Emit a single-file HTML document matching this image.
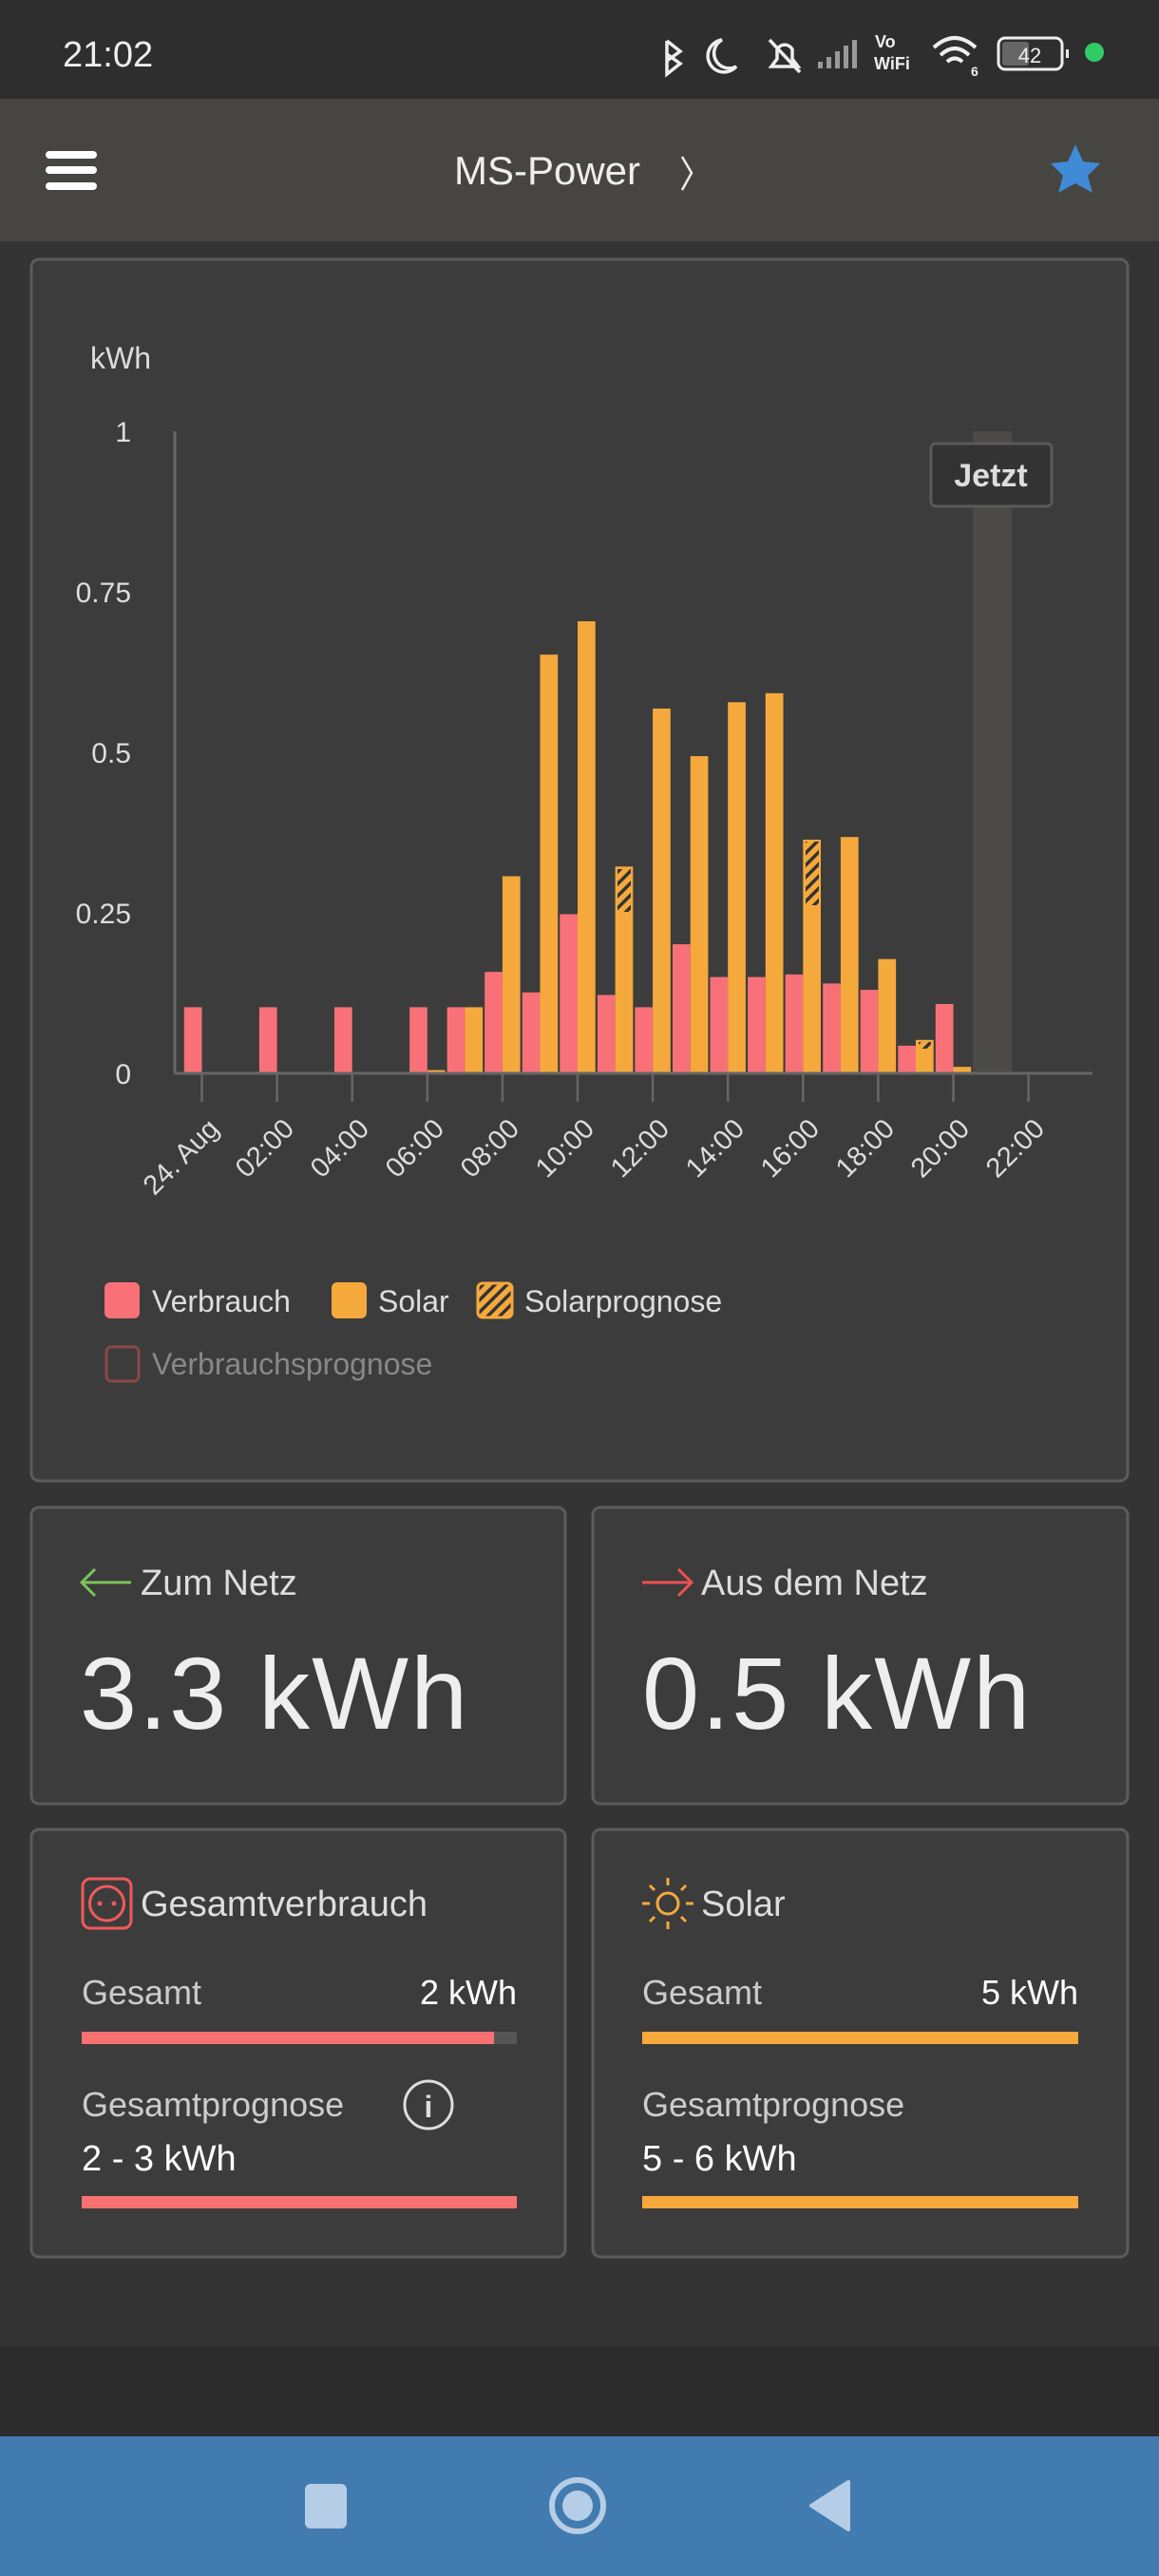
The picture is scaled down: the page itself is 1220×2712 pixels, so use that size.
<!DOCTYPE html>
<html><head><meta charset="utf-8"><style>
html,body{margin:0;padding:0;background:#343434;}
svg{display:block;}
text{font-family:"Liberation Sans",sans-serif;}
</style></head><body>
<svg width="1220" height="2712" viewBox="0 0 1220 2712" xmlns="http://www.w3.org/2000/svg">
<defs>
<pattern id="hatch" patternUnits="userSpaceOnUse" width="9" height="9" patternTransform="rotate(45)">
<rect width="9" height="9" fill="#f5a93c"/><rect width="3.5" height="9" fill="#333"/>
</pattern>
</defs>
<!-- status bar -->
<rect x="0" y="0" width="1220" height="104" fill="#2e2e2e"/>
<text x="66" y="70" font-size="38" fill="#eee">21:02</text>
<g stroke="#eee" stroke-width="3.5" fill="none">
<path d="M702 43 L716 54 L702 64 M702 43 L702 78 L716 67 L702 57"/>
<path d="M760 42 A17 17 0 1 0 775 70 A14 14 0 0 1 760 42Z"/>
<path d="M812 70 L840 70 L834 62 L834 52 A9 9 0 0 0 818 52 L818 62Z M810 42 L842 76"/>
</g>
<g fill="#999"><rect x="861" y="65" width="5" height="7"/><rect x="870" y="60" width="5" height="12"/><rect x="879" y="54" width="5" height="18"/><rect x="888" y="48" width="5" height="24"/><rect x="897" y="42" width="5" height="30"/></g>
<text x="921" y="50" font-size="18" fill="#eee" font-weight="bold">Vo</text>
<text x="920" y="73" font-size="18" fill="#eee" font-weight="bold">WiFi</text>
<g stroke="#eee" stroke-width="4" fill="none"><path d="M983 50 Q1005 30 1027 50"/><path d="M990 58 Q1005 44 1020 58"/><path d="M997 65 Q1005 58 1013 65"/></g>
<text x="1022" y="80" font-size="14" fill="#eee" font-weight="bold">6</text>
<rect x="1051" y="40" width="67" height="33" rx="7" fill="none" stroke="#eee" stroke-width="3"/>
<rect x="1055" y="44" width="28" height="25" rx="3" fill="#666"/>
<rect x="1122" y="52" width="3" height="9" fill="#eee"/>
<text x="1084" y="66" font-size="22" fill="#eee" text-anchor="middle">42</text>
<circle cx="1152" cy="55" r="10" fill="#2fcc66"/>
<!-- header -->
<rect x="0" y="104" width="1220" height="150" fill="#464541"/>
<g fill="#fff"><rect x="48" y="159" width="54" height="8" rx="4"/><rect x="48" y="175" width="54" height="8" rx="4"/><rect x="48" y="192" width="54" height="8" rx="4"/></g>
<text x="576" y="194" font-size="42" fill="#eee" text-anchor="middle">MS-Power</text>
<path d="M718 165 L728 182 L718 200" stroke="#eee" stroke-width="2.5" fill="none"/>
<path d="M1132 152 L1140 170 L1158 172 L1145 185 L1150 203 L1132 193 L1114 203 L1119 185 L1106 172 L1124 170Z" fill="#3f8bd6"/>
<!-- bottom -->
<rect x="0" y="2470" width="1220" height="95" fill="#2b2b2b"/>
<rect x="0" y="2565" width="1220" height="147" fill="#427bb0"/>
<rect x="321" y="2615" width="44" height="47" rx="6" fill="#b5cde6"/>
<circle cx="608" cy="2638" r="27" fill="none" stroke="#b5cde6" stroke-width="6"/>
<circle cx="608" cy="2638" r="16" fill="#b5cde6"/>
<path d="M893 2613 L893 2663 L854 2638Z" fill="#b5cde6" stroke="#b5cde6" stroke-width="4" stroke-linejoin="round"/>
<!-- chart card -->
<rect x="33" y="273" width="1154" height="1286" rx="8" fill="#3c3c3c" stroke="#5c5c5c" stroke-width="3"/>
<text x="95" y="388" font-size="32" fill="#ddd">kWh</text>
<g font-size="30" fill="#ddd" text-anchor="end">
<text x="138" y="465">1</text><text x="138" y="634">0.75</text><text x="138" y="803">0.5</text><text x="138" y="972">0.25</text><text x="138" y="1141">0</text>
</g>
<rect x="1024" y="454" width="41" height="676" fill="#4b4a46"/>
<line x1="184" y1="454" x2="184" y2="1130" stroke="#666" stroke-width="3"/>
<g fill="#f87178">
<rect x="193.8" y="1060.4" width="18.7" height="69.6"/>
<rect x="272.9" y="1060.4" width="18.7" height="69.6"/>
<rect x="352.0" y="1060.4" width="18.7" height="69.6"/>
<rect x="431.1" y="1060.4" width="18.7" height="69.6"/>
<rect x="470.7" y="1060.4" width="18.7" height="69.6"/>
<rect x="510.2" y="1023.2" width="18.7" height="106.8"/>
<rect x="549.8" y="1044.8" width="18.7" height="85.2"/>
<rect x="589.3" y="962.4" width="18.7" height="167.6"/>
<rect x="628.9" y="1047.5" width="18.7" height="82.5"/>
<rect x="668.4" y="1060.4" width="18.7" height="69.6"/>
<rect x="708.0" y="994.1" width="18.7" height="135.9"/>
<rect x="747.5" y="1028.6" width="18.7" height="101.4"/>
<rect x="787.1" y="1028.6" width="18.7" height="101.4"/>
<rect x="826.6" y="1025.9" width="18.7" height="104.1"/>
<rect x="866.2" y="1035.4" width="18.7" height="94.6"/>
<rect x="905.7" y="1042.1" width="18.7" height="87.9"/>
<rect x="945.3" y="1100.9" width="18.7" height="29.1"/>
<rect x="984.8" y="1057" width="18.7" height="73"/>
</g>
<g fill="#f5a93c">
<rect x="449.8" y="1126.6" width="18.7" height="3.4"/>
<rect x="489.4" y="1060.4" width="18.7" height="69.6"/>
<rect x="528.9" y="922.5" width="18.7" height="207.5"/>
<rect x="568.5" y="689.2" width="18.7" height="440.8"/>
<rect x="608.0" y="654.1" width="18.7" height="475.9"/>
<rect x="647.6" y="912.3" width="18.7" height="217.7"/>
<rect x="687.1" y="746" width="18.7" height="384"/>
<rect x="726.7" y="796.1" width="18.7" height="333.9"/>
<rect x="766.2" y="739.3" width="18.7" height="390.7"/>
<rect x="805.8" y="729.8" width="18.7" height="400.2"/>
<rect x="845.3" y="884" width="18.7" height="246"/>
<rect x="884.9" y="881.2" width="18.7" height="248.8"/>
<rect x="924.4" y="1009.7" width="18.7" height="120.3"/>
<rect x="964.0" y="1094.8" width="18.7" height="35.2"/>
<rect x="1003.5" y="1123.2" width="18.7" height="6.8"/>
</g>
<g fill="url(#hatch)">
<rect x="650" y="915" width="14" height="45"/>
<rect x="848" y="886" width="14" height="67"/>
<rect x="967" y="1097" width="13" height="7"/>
</g>
<line x1="184" y1="1130" x2="1150" y2="1130" stroke="#666" stroke-width="3"/>
<g stroke="#666" stroke-width="2.5">
<line x1="212.5" y1="1130" x2="212.5" y2="1160"/><line x1="291.6" y1="1130" x2="291.6" y2="1160"/><line x1="370.7" y1="1130" x2="370.7" y2="1160"/><line x1="449.8" y1="1130" x2="449.8" y2="1160"/><line x1="528.9" y1="1130" x2="528.9" y2="1160"/><line x1="608" y1="1130" x2="608" y2="1160"/><line x1="687.1" y1="1130" x2="687.1" y2="1160"/><line x1="766.2" y1="1130" x2="766.2" y2="1160"/><line x1="845.3" y1="1130" x2="845.3" y2="1160"/><line x1="924.4" y1="1130" x2="924.4" y2="1160"/><line x1="1003.5" y1="1130" x2="1003.5" y2="1160"/><line x1="1082.6" y1="1130" x2="1082.6" y2="1160"/>
</g>
<g font-size="29" fill="#ddd" text-anchor="end">
<text transform="translate(232,1190) rotate(-45)">24. Aug</text>
<text transform="translate(311,1190) rotate(-45)">02:00</text>
<text transform="translate(390,1190) rotate(-45)">04:00</text>
<text transform="translate(469,1190) rotate(-45)">06:00</text>
<text transform="translate(548,1190) rotate(-45)">08:00</text>
<text transform="translate(627,1190) rotate(-45)">10:00</text>
<text transform="translate(706,1190) rotate(-45)">12:00</text>
<text transform="translate(785,1190) rotate(-45)">14:00</text>
<text transform="translate(864,1190) rotate(-45)">16:00</text>
<text transform="translate(943,1190) rotate(-45)">18:00</text>
<text transform="translate(1022,1190) rotate(-45)">20:00</text>
<text transform="translate(1101,1190) rotate(-45)">22:00</text>
</g>
<rect x="980" y="467" width="127" height="66" rx="5" fill="#333" stroke="#5a5a5a" stroke-width="3"/>
<text x="1043" y="512" font-size="34" font-weight="bold" fill="#ddd" text-anchor="middle">Jetzt</text>
<!-- legend -->
<rect x="110" y="1350" width="37" height="38" rx="6" fill="#f87178"/>
<text x="160" y="1381" font-size="32" fill="#ddd">Verbrauch</text>
<rect x="349" y="1350" width="37" height="38" rx="6" fill="#f5a93c"/>
<text x="398" y="1381" font-size="32" fill="#ddd">Solar</text>
<rect x="503" y="1351" width="36" height="36" rx="5" fill="url(#hatch)" stroke="#f5a93c" stroke-width="3"/>
<text x="552" y="1381" font-size="32" fill="#ddd">Solarprognose</text>
<rect x="112" y="1418" width="34" height="36" rx="5" fill="none" stroke="#8a4848" stroke-width="3"/>
<text x="160" y="1447" font-size="32" fill="#888">Verbrauchsprognose</text>
<!-- row 1 cards -->
<rect x="33" y="1587" width="562" height="312" rx="8" fill="#3c3c3c" stroke="#5c5c5c" stroke-width="3"/>
<rect x="624" y="1587" width="563" height="312" rx="8" fill="#3c3c3c" stroke="#5c5c5c" stroke-width="3"/>
<path d="M86 1666 L138 1666 M100 1652 L86 1666 L100 1680" stroke="#7cc35a" stroke-width="3" fill="none"/>
<text x="148" y="1679" font-size="38" fill="#ddd">Zum Netz</text>
<text x="84" y="1820" font-size="108" fill="#eee" letter-spacing="2">3.3 kWh</text>
<path d="M676 1666 L728 1666 M714 1652 L728 1666 L714 1680" stroke="#f05050" stroke-width="3" fill="none"/>
<text x="738" y="1679" font-size="38" fill="#ddd">Aus dem Netz</text>
<text x="676" y="1820" font-size="108" fill="#eee" letter-spacing="2">0.5 kWh</text>
<!-- row 2 cards -->
<rect x="33" y="1926" width="562" height="450" rx="8" fill="#3c3c3c" stroke="#5c5c5c" stroke-width="3"/>
<rect x="624" y="1926" width="563" height="450" rx="8" fill="#3c3c3c" stroke="#5c5c5c" stroke-width="3"/>
<rect x="87" y="1978" width="51" height="52" rx="8" fill="none" stroke="#f05a5a" stroke-width="3"/>
<circle cx="112.5" cy="2004" r="18" fill="none" stroke="#f05a5a" stroke-width="3"/>
<circle cx="105" cy="2004" r="2.5" fill="#f05a5a"/><circle cx="120" cy="2004" r="2.5" fill="#f05a5a"/>
<text x="148" y="2017" font-size="38" fill="#ddd">Gesamtverbrauch</text>
<text x="86" y="2110" font-size="36" fill="#ccc">Gesamt</text>
<text x="544" y="2110" font-size="36" fill="#fff" text-anchor="end">2 kWh</text>
<rect x="86" y="2139" width="458" height="13" fill="#555"/>
<rect x="86" y="2139" width="434" height="13" fill="#f87171"/>
<text x="86" y="2228" font-size="36" fill="#ccc">Gesamtprognose</text>
<circle cx="451" cy="2216" r="25" fill="none" stroke="#ddd" stroke-width="3"/>
<text x="451" y="2229" font-size="32" fill="#ddd" text-anchor="middle" font-weight="bold">i</text>
<text x="86" y="2285" font-size="38" fill="#fff">2 - 3 kWh</text>
<rect x="86" y="2312" width="458" height="13" fill="#f87171"/>
<g stroke="#f5a93c" stroke-width="3" fill="none">
<circle cx="703" cy="2004" r="11"/>
<path d="M703 1977 v8 M703 2023 v8 M676 2004 h8 M722 2004 h8 M684 1985 l5 5 M717 2018 l5 5 M722 1985 l-5 5 M684 2023 l5 -5"/>
</g>
<text x="738" y="2017" font-size="38" fill="#ddd">Solar</text>
<text x="676" y="2110" font-size="36" fill="#ccc">Gesamt</text>
<text x="1135" y="2110" font-size="36" fill="#fff" text-anchor="end">5 kWh</text>
<rect x="676" y="2139" width="459" height="13" fill="#f5a93c"/>
<text x="676" y="2228" font-size="36" fill="#ccc">Gesamtprognose</text>
<text x="676" y="2285" font-size="38" fill="#fff">5 - 6 kWh</text>
<rect x="676" y="2312" width="459" height="13" fill="#f5a93c"/>
</svg>
</body></html>
